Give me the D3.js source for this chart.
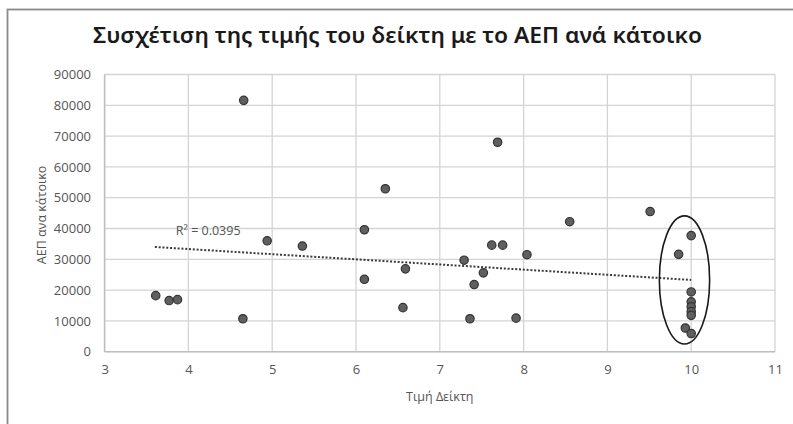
<!DOCTYPE html>
<html><head><meta charset="utf-8">
<script src="https://cdn.jsdelivr.net/npm/d3@7"></script>
<style>html,body{margin:0;padding:0;background:#fff;}svg{display:block;}</style>
</head><body>
<script>
const title = "Συσχέτιση της τιμής του δείκτη με το ΑΕΠ ανά κάτοικο";
const xLabel = "Τιμή Δείκτη";
const yLabel = "ΑΕΠ ανα κάτοικο";
const xTicks = [3,4,5,6,7,8,9,10,11];
const yTicks = [0,10000,20000,30000,40000,50000,60000,70000,80000,90000];
const indexValues = [4.66,4.94,5.36,3.61,3.77,3.87,4.65,7.69,6.35,6.10,8.55,7.62,7.75,8.04,7.29,6.59,7.52,6.10,7.41,6.56,7.36,7.91,9.51,10,9.85,10,10,10,10,10,9.93,10];
const gdpValues = [81600,36000,34300,18200,16600,16900,10700,68000,52900,39600,42200,34600,34600,31500,29700,26900,25600,23500,21800,14300,10700,10900,45500,37700,31600,19400,16200,14600,13000,11800,7700,5900];
const trendX = [3.6, 10];
const trendY = [34000, 23300];
const r2Label = "R² = 0.0395";
const r2Pos = [3.85, 39300];
const ellipse = {cx: 9.92, cy: 23300, rx: 0.3, ry: 20800};

const W = 793, H = 424;
const svg = d3.select("body").append("svg").attr("width", W).attr("height", H);
svg.append("rect").attr("x",7.5).attr("y",9.5).attr("width",W+10).attr("height",H+10)
  .attr("fill","none").attr("stroke","#8a8a8a").attr("stroke-width",1.8);

const x = d3.scaleLinear().domain([3,11]).range([104.6,775]);
const y = d3.scaleLinear().domain([0,90000]).range([351.7,74.5]);

const g = svg.append("g");
g.selectAll("line.h").data(yTicks).join("line")
  .attr("x1",x(3)).attr("x2",x(11)).attr("y1",d=>y(d)).attr("y2",d=>y(d))
  .attr("stroke","#d4d4d4").attr("stroke-width",1.3);
g.selectAll("line.v").data(xTicks).join("line")
  .attr("y1",y(0)).attr("y2",y(90000)).attr("x1",d=>x(d)).attr("x2",d=>x(d))
  .attr("stroke","#d4d4d4").attr("stroke-width",1.3);
g.append("line").attr("x1",x(3)).attr("x2",x(11)).attr("y1",y(0)).attr("y2",y(0)).attr("stroke","#bfbfbf").attr("stroke-width",1.5);
g.append("line").attr("x1",x(3)).attr("x2",x(3)).attr("y1",y(0)).attr("y2",y(90000)).attr("stroke","#bfbfbf").attr("stroke-width",1.5);

const font = "'Open Sans', sans-serif";
const tcol = "#555";
const yAxis = d3.axisLeft(y).tickValues(yTicks).tickSize(0).tickPadding(0).tickFormat(d3.format("d"));
const ya = svg.append("g").attr("transform","translate(91,0)").call(yAxis);
ya.select(".domain").remove();
ya.selectAll("text").attr("font-family",font).attr("font-size",13).attr("fill",tcol);
const xAxis = d3.axisBottom(x).tickValues(xTicks).tickSize(0).tickPadding(0).tickFormat(d3.format("d"));
const xa = svg.append("g").attr("transform","translate(0,365)").call(xAxis);
xa.select(".domain").remove();
xa.selectAll("text").attr("font-family",font).attr("font-size",13).attr("fill",tcol);

svg.append("text").attr("x",(x(3)+x(11))/2).attr("y",401).attr("text-anchor","middle")
  .attr("font-family",font).attr("font-size",12.5).attr("fill",tcol).text(xLabel);
svg.append("text").attr("transform","translate(46,215) rotate(-90)").attr("text-anchor","middle")
  .attr("font-family",font).attr("font-size",12.5).attr("fill",tcol).text(yLabel);

svg.append("text").attr("x",93).attr("y",43).attr("textLength",609).attr("lengthAdjust","spacingAndGlyphs")
  .attr("font-family","'Noto Sans', sans-serif").attr("font-weight",600).attr("font-size",21).attr("fill","#1a1a1a").text(title);

svg.append("line").attr("x1",x(trendX[0])).attr("x2",x(trendX[1])).attr("y1",y(trendY[0])).attr("y2",y(trendY[1]))
  .attr("stroke","#3a3a3a").attr("stroke-width",2).attr("stroke-dasharray","2,1.8");
svg.append("text").attr("x",x(r2Pos[0])).attr("y",y(r2Pos[1])).attr("dy","0.35em")
  .attr("font-family",font).attr("font-size",12.5).attr("fill",tcol).text(r2Label);

const pts = indexValues.map((v,i)=>({x:v,y:gdpValues[i]}));
svg.selectAll("circle.p").data(pts).join("circle")
  .attr("cx",d=>x(d.x)).attr("cy",d=>y(d.y)).attr("r",4.2)
  .attr("fill","#5f5f5f").attr("stroke","#333").attr("stroke-width",1.2);

svg.append("ellipse").attr("cx",x(ellipse.cx)).attr("cy",y(ellipse.cy))
  .attr("rx",x(ellipse.cx+ellipse.rx)-x(ellipse.cx)).attr("ry",y(0)-y(ellipse.ry))
  .attr("fill","none").attr("stroke","#1a1a1a").attr("stroke-width",1.6);
</script>
</body></html>
